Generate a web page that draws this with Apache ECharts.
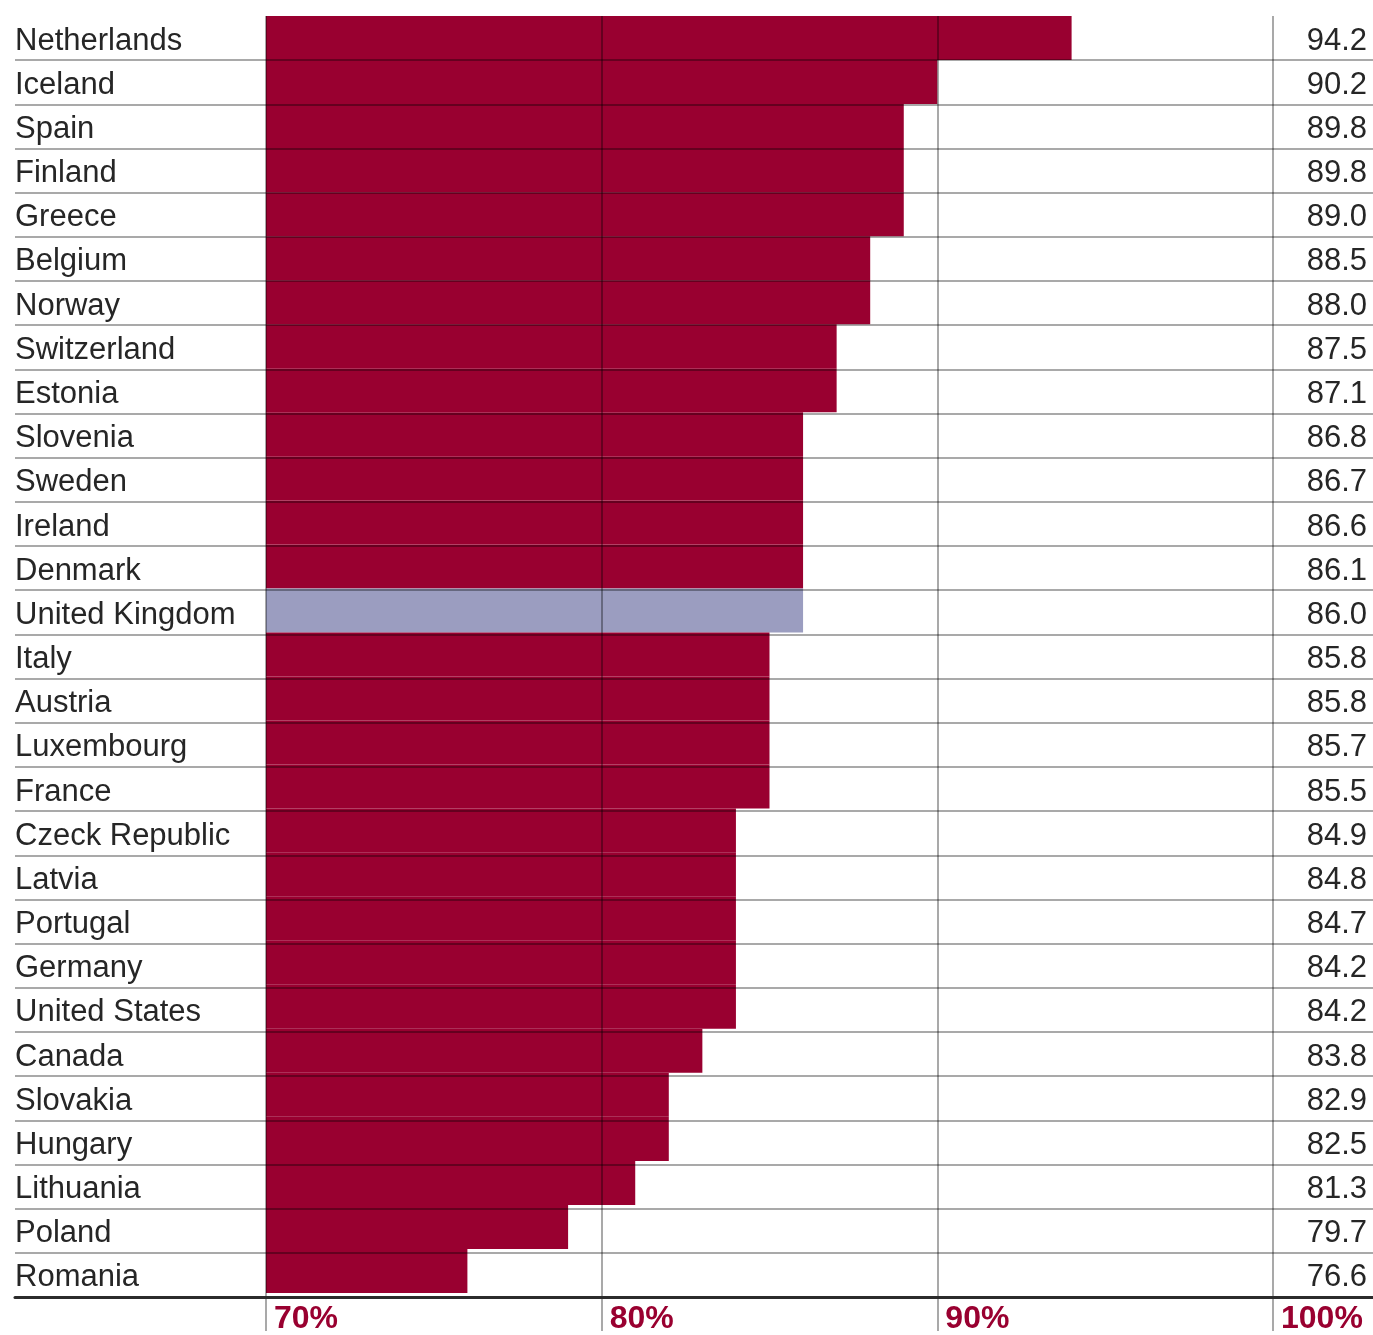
<!DOCTYPE html>
<html>
<head>
<meta charset="utf-8">
<script src="https://cdn.jsdelivr.net/npm/echarts@6/dist/echarts.min.js"></script>
<style>
  html, body { margin: 0; padding: 0; background: #fff; }
  #chart { width: 1373px; height: 1335px; }
</style>
</head>
<body>
<div id="chart"></div>
<script>
/* data */
var countries = ['Netherlands', 'Iceland', 'Spain', 'Finland', 'Greece', 'Belgium', 'Norway',
  'Switzerland', 'Estonia', 'Slovenia', 'Sweden', 'Ireland', 'Denmark', 'United Kingdom',
  'Italy', 'Austria', 'Luxembourg', 'France', 'Czeck Republic', 'Latvia', 'Portugal',
  'Germany', 'United States', 'Canada', 'Slovakia', 'Hungary', 'Lithuania', 'Poland', 'Romania'];
// bar lengths as drawn (whole percent steps)
var barValues = [94, 90, 89, 89, 89, 88, 88, 87, 87, 86, 86, 86, 86, 86, 85, 85, 85, 85,
  84, 84, 84, 84, 84, 83, 82, 82, 81, 79, 76];
// printed values at the right
var labelValues = ['94.2', '90.2', '89.8', '89.8', '89.0', '88.5', '88.0', '87.5', '87.1',
  '86.8', '86.7', '86.6', '86.1', '86.0', '85.8', '85.8', '85.7', '85.5', '84.9', '84.8',
  '84.7', '84.2', '84.2', '83.8', '82.9', '82.5', '81.3', '79.7', '76.6'];
var highlight = 'United Kingdom';
var xMin = 70, xMax = 100, xStep = 10;

var RED = '#990030';
var LAVENDER = '#9b9dc0';
var LINE = 'rgba(0,0,0,0.45)';
var FONT = '"Liberation Sans", Arial, sans-serif';

// shift row labels a little lower, like the original
var rowText = { padding: [6, 0, 0, 0], fontSize: 31, color: '#262626', fontFamily: FONT };

var chart = echarts.init(document.getElementById('chart'));

var option = {
  animation: false,
  backgroundColor: '#fff',
  grid: [
    { left: 266, right: 100, top: 16, bottom: 38 },
    { left: 15, right: 0, top: 16, bottom: 38 }
  ],
  xAxis: [
    {
      gridIndex: 0, type: 'value', min: xMin, max: xMax, interval: xStep,
      startValue: xMin, z: 10,
      axisLine: { show: false },
      axisTick: { show: true, length: 38, lineStyle: { color: LINE, width: 1.5 } },
      splitLine: { show: true, lineStyle: { color: LINE, width: 1.5 } },
      axisLabel: {
        formatter: '{value}%', align: 'left', verticalAlign: 'top',
        margin: 10, padding: [0, 0, 0, 8],
        color: RED, fontWeight: 'bold', fontSize: 32, fontFamily: FONT
      }
    },
    {
      gridIndex: 1, type: 'value', min: 0, max: 1, z: 11,
      axisLine: { show: true, lineStyle: { color: '#2b2b2b', width: 3 } },
      axisTick: { show: false }, axisLabel: { show: false }, splitLine: { show: false }
    }
  ],
  yAxis: [
    {
      gridIndex: 0, type: 'category', data: countries, inverse: true, show: false
    },
    {
      gridIndex: 1, type: 'category', data: countries, inverse: true, z: 10,
      axisLine: { show: false }, axisTick: { show: false },
      splitLine: {
        show: true,
        interval: function (i) { return i > 0; },
        lineStyle: { color: LINE, width: 1.5 }
      },
      axisLabel: {
        inside: true, margin: 0,
        formatter: function (v) { return '{t|' + v + '}'; },
        rich: { t: rowText }
      }
    },
    {
      gridIndex: 1, type: 'category', data: labelValues, inverse: true, position: 'right',
      axisLine: { show: false }, axisTick: { show: false }, splitLine: { show: false },
      axisLabel: {
        inside: true, margin: 6,
        formatter: function (v) { return '{t|' + v + '}'; },
        rich: { t: rowText }
      }
    }
  ],
  series: [
    {
      type: 'bar',
      xAxisIndex: 0, yAxisIndex: 0,
      barCategoryGap: '0%',
      clip: true,
      data: barValues.map(function (v, i) {
        return {
          value: v,
          itemStyle: { color: countries[i] === highlight ? LAVENDER : RED }
        };
      })
    }
  ]
};

chart.setOption(option);
</script>
</body>
</html>
